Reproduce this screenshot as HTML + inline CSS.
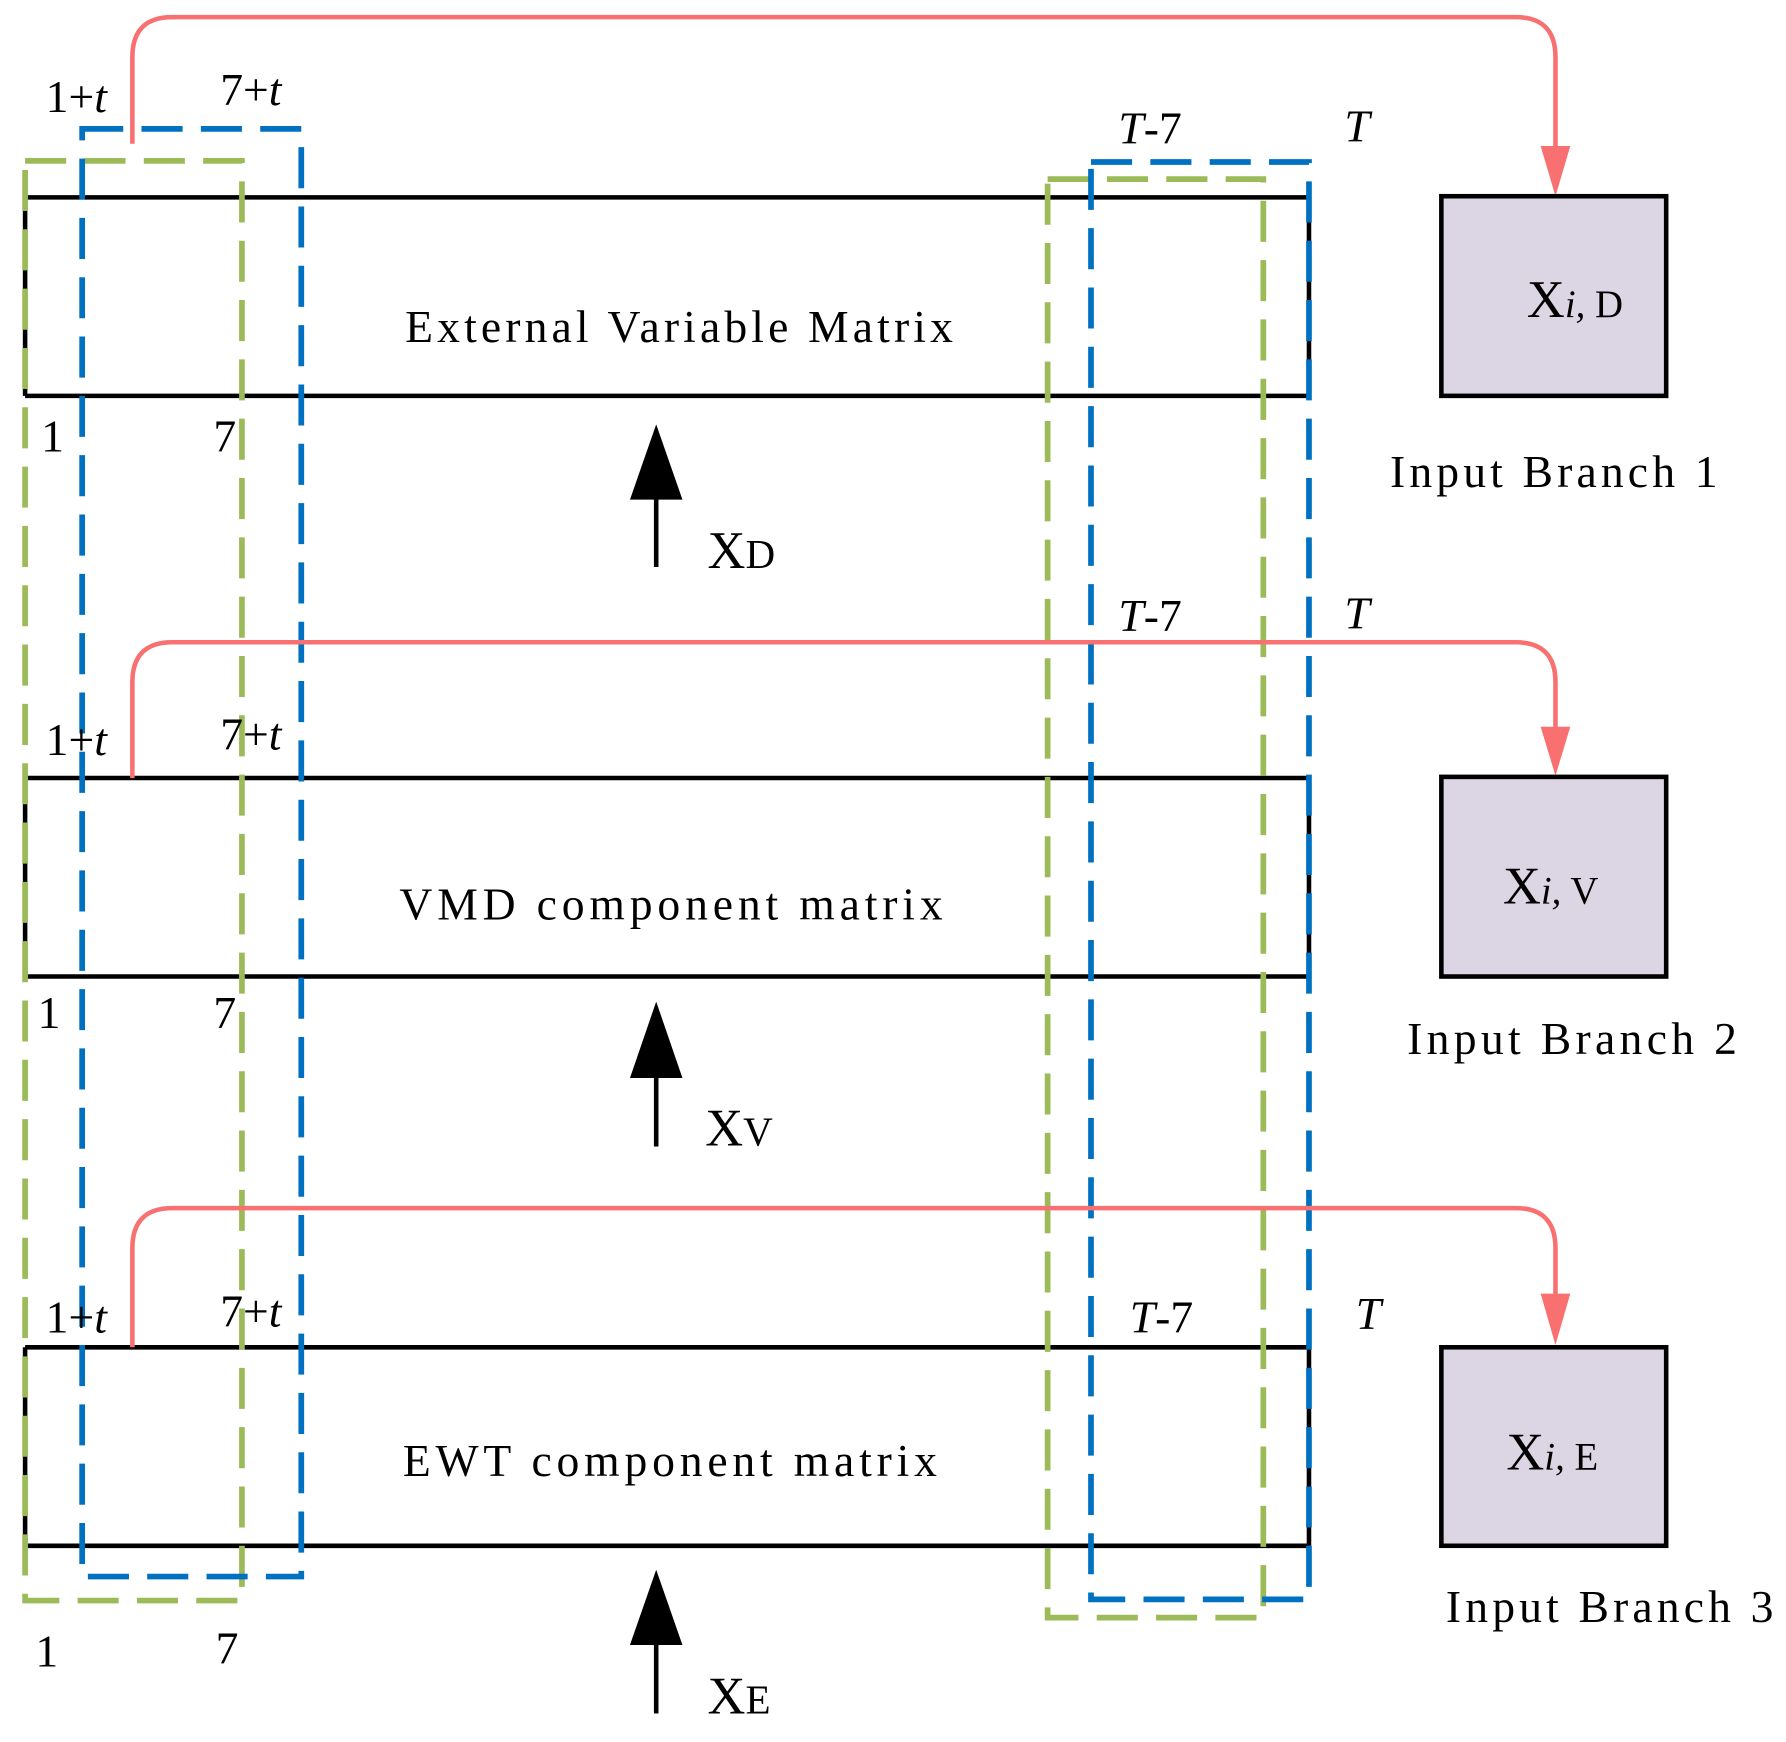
<!DOCTYPE html>
<html><head><style>html,body{margin:0;padding:0;background:#fff}svg{display:block}</style></head>
<body>
<svg width="1786" height="1742" viewBox="0 0 1565 1527" preserveAspectRatio="none" xmlns="http://www.w3.org/2000/svg" font-family="Liberation Serif, serif">
<g stroke="#000" stroke-width="4" fill="none">
<path d="M22 173H1147M22 347H1147M22 173V347M1147 173V347"/>
<path d="M22 682H1147M22 856H1147M22 682V856M1147 682V856"/>
<path d="M22 1181H1147M22 1355H1147M22 1181V1355M1147 1181V1355"/>
</g>
<g fill="none" stroke-width="5" stroke-dasharray="36,16">
<rect x="22" y="141" width="190" height="1262" stroke="#9bbb59"/>
<rect x="918" y="157" width="189" height="1261" stroke="#9bbb59"/>
<rect x="72" y="113" width="192" height="1269" stroke="#0070c0"/>
<rect x="956" y="142" width="191" height="1260" stroke="#0070c0"/>
</g>
<g fill="none" stroke="#f87070" stroke-width="4">
<path d="M116 126V50Q116 15 151 15H1328Q1363 15 1363 50V135"/>
<path d="M116 682V598Q116 563 151 563H1328Q1363 563 1363 598V645"/>
<path d="M116 1181V1094Q116 1059 151 1059H1328Q1363 1059 1363 1094V1143"/>
</g>
<g fill="#f87070">
<polygon points="1350,128 1376,128 1363,172"/>
<polygon points="1350,637 1376,637 1363,680"/>
<polygon points="1350,1134 1376,1134 1363,1179"/>
</g>
<g fill="#dcd6e4" stroke="#000" stroke-width="4">
<rect x="1263" y="172" width="197" height="175"/>
<rect x="1263" y="681" width="197" height="175"/>
<rect x="1263" y="1181" width="197" height="174"/>
</g>
<g stroke="#000" stroke-width="4"><path d="M575 497V420M575 1005V928M575 1502V1424"/></g>
<g fill="#000">
<polygon points="552,438 598,438 575,372"/>
<polygon points="552,945 598,945 575,878"/>
<polygon points="552,1442 598,1442 575,1376"/>
</g>
<g font-size="40" fill="#000">
<text x="355" y="300" textLength="480" lengthAdjust="spacing">External Variable Matrix</text>
<text x="350" y="806" textLength="476" lengthAdjust="spacing">VMD component matrix</text>
<text x="353" y="1294" textLength="468" lengthAdjust="spacing">EWT component matrix</text>
<text x="1218" y="427" textLength="287" lengthAdjust="spacing">Input Branch 1</text>
<text x="1233" y="924" textLength="289" lengthAdjust="spacing">Input Branch 2</text>
<text x="1267" y="1422" textLength="287" lengthAdjust="spacing">Input Branch 3</text>
<text x="40" y="98">1+<tspan font-style="italic">t</tspan></text>
<text x="193" y="92">7+<tspan font-style="italic">t</tspan></text>
<text x="40" y="662">1+<tspan font-style="italic">t</tspan></text>
<text x="193" y="657">7+<tspan font-style="italic">t</tspan></text>
<text x="40" y="1168">1+<tspan font-style="italic">t</tspan></text>
<text x="193" y="1163">7+<tspan font-style="italic">t</tspan></text>
<text x="36" y="396">1</text><text x="187" y="396">7</text>
<text x="33" y="901">1</text><text x="187" y="901">7</text>
<text x="31" y="1461">1</text><text x="189" y="1458">7</text>
<text x="980" y="126"><tspan font-style="italic">T</tspan>-7</text>
<text x="1178" y="124" font-style="italic">T</text>
<text x="980" y="553"><tspan font-style="italic">T</tspan>-7</text>
<text x="1178" y="551" font-style="italic">T</text>
<text x="990" y="1168"><tspan font-style="italic">T</tspan>-7</text>
<text x="1188" y="1165" font-style="italic">T</text>
<text x="620" y="498" font-size="46">X<tspan font-size="36">D</tspan></text>
<text x="618" y="1004" font-size="46">X<tspan font-size="36">V</tspan></text>
<text x="620" y="1502" font-size="46">X<tspan font-size="36">E</tspan></text>
<text x="1338" y="278" font-size="46">X<tspan font-size="34" font-style="italic">i,</tspan><tspan font-size="34"> D</tspan></text>
<text x="1317" y="792" font-size="46">X<tspan font-size="34" font-style="italic">i,</tspan><tspan font-size="34"> V</tspan></text>
<text x="1320" y="1288" font-size="46">X<tspan font-size="34" font-style="italic">i,</tspan><tspan font-size="34"> E</tspan></text>
</g>
</svg>
</body></html>
